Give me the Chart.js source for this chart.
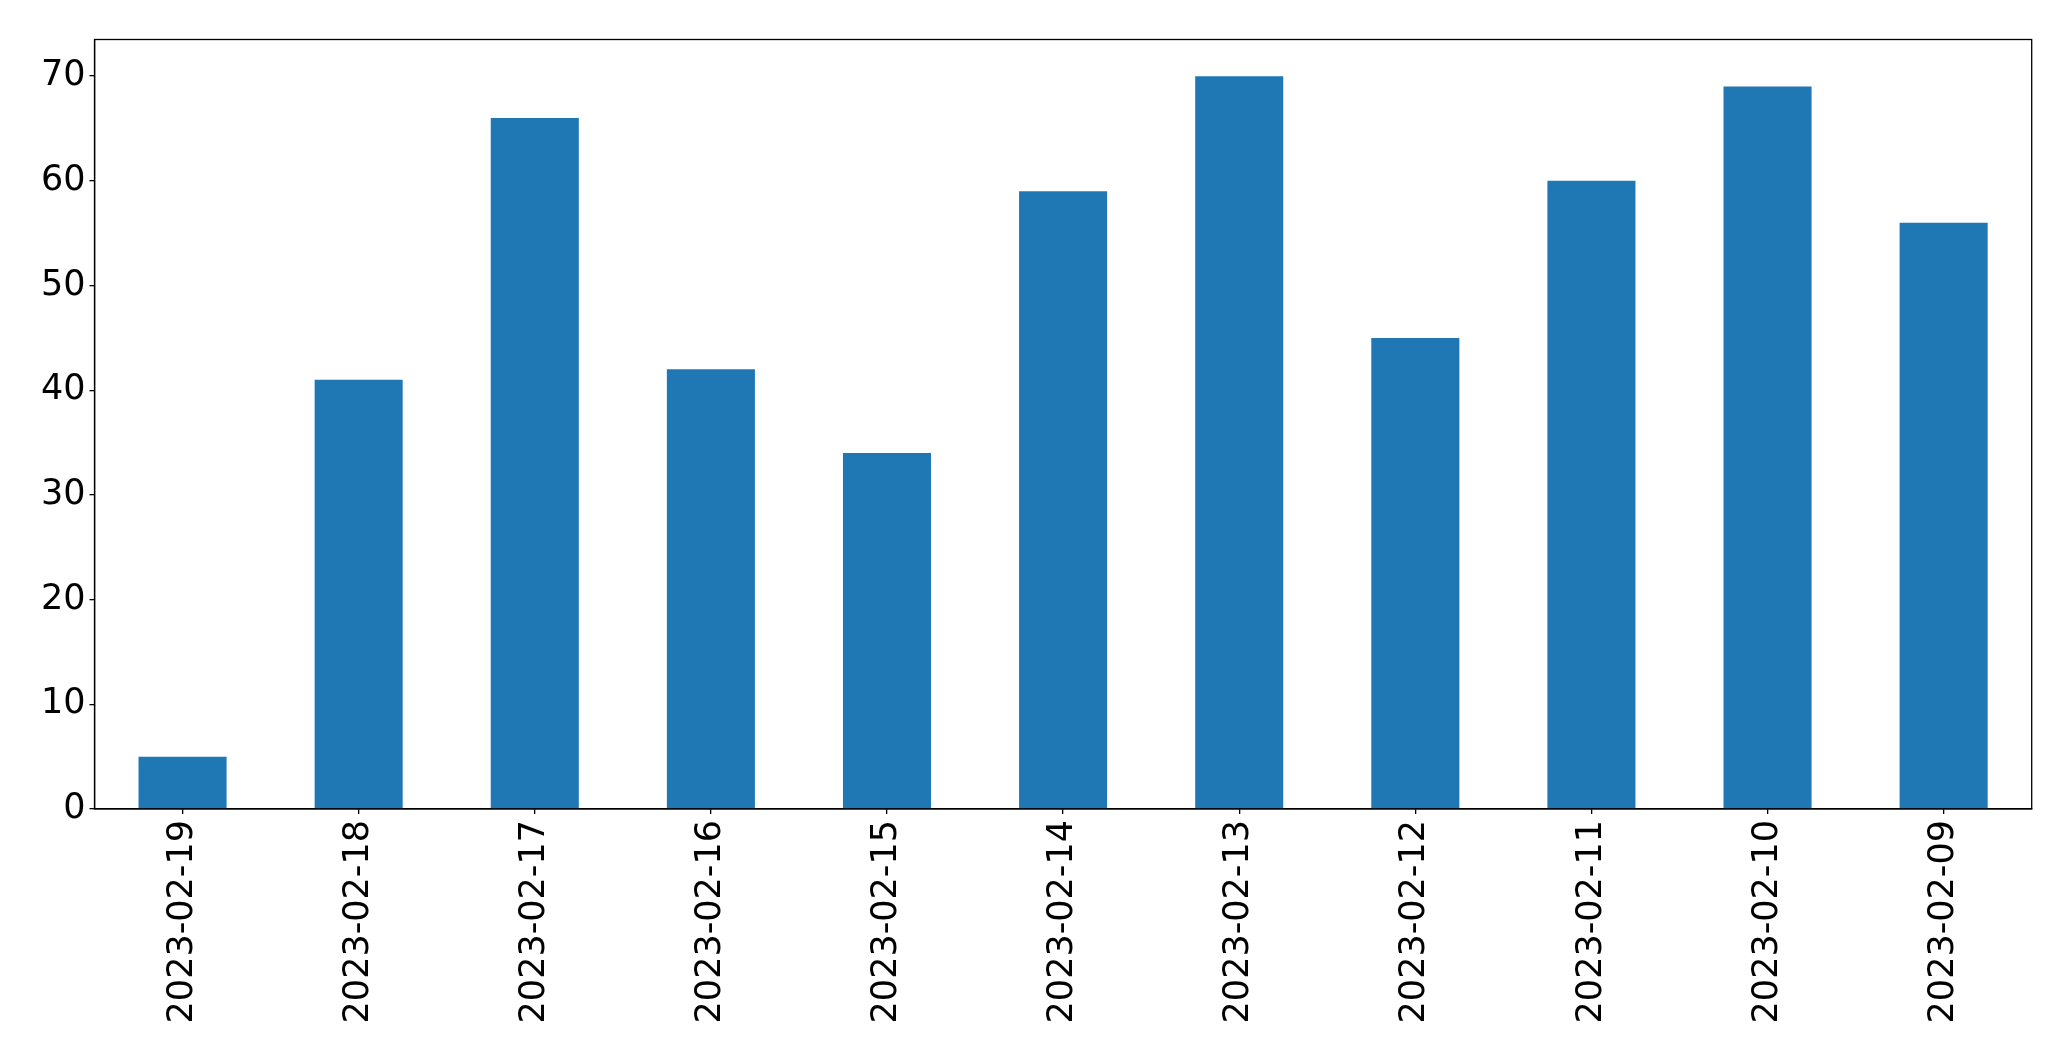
<!DOCTYPE html>
<html lang="en">
<head>
    <meta charset="UTF-8">
    <title>Daily counts</title>
    <script src="https://cdn.jsdelivr.net/npm/chart.js"></script>
    <style>
        html, body {
            margin: 0;
            padding: 0;
            background-color: #ffffff;
        }
        .chart-wrapper {
            width: 2071px;
            height: 1061px;
        }
    </style>
</head>
<body>
    <div class="chart-wrapper">
        <canvas id="barChart"></canvas>
    </div>

    <script>
        // data
        const dates = ['2023-02-19', '2023-02-18', '2023-02-17', '2023-02-16', '2023-02-15', '2023-02-14',
                       '2023-02-13', '2023-02-12', '2023-02-11', '2023-02-10', '2023-02-09'];
        const counts = [5, 41, 66, 42, 34, 59, 70, 45, 60, 69, 56];
        const yTicks = [0, 10, 20, 30, 40, 50, 60, 70];

        // box round the plot area, like matplotlib's spines
        const frame = {
            id: 'frame',
            afterDraw(chart) {
                const a = chart.chartArea;
                const ctx = chart.ctx;
                ctx.save();
                ctx.strokeStyle = '#000';
                ctx.lineWidth = 1.3;
                ctx.strokeRect(a.left, a.top, a.right - a.left, a.bottom - a.top);
                ctx.restore();
            }
        };

        const font = { family: 'DejaVu Sans', size: 35 };

        new Chart(document.getElementById('barChart'), {
            type: 'bar',
            data: {
                labels: dates,
                datasets: [{
                    data: counts,
                    backgroundColor: '#1f77b4',
                    borderWidth: 0,
                    barPercentage: 0.5,
                    categoryPercentage: 1.0
                }]
            },
            options: {
                responsive: true,
                maintainAspectRatio: false,
                animation: false,
                layout: { padding: { top: 39.5, right: 39.3, bottom: 0, left: 0 } },
                plugins: {
                    legend: { display: false },
                    tooltip: { enabled: false }
                },
                scales: {
                    x: {
                        offset: true,
                        grid: { offset: false, drawOnChartArea: false, drawTicks: true, tickLength: 5, color: '#000', lineWidth: 1.3 },
                        border: { display: true, color: '#000', width: 1.3 },
                        ticks: { font: font, color: '#000', minRotation: 90, maxRotation: 90, padding: 6, autoSkip: false },
                        afterFit(scale) { scale.height = 252; }
                    },
                    y: {
                        min: 0,
                        max: 73.5,
                        grid: { drawOnChartArea: false, drawTicks: true, tickLength: 5, color: '#000', lineWidth: 1.3 },
                        border: { display: true, color: '#000', width: 1.3 },
                        ticks: { font: font, color: '#000', padding: 4 },
                        afterBuildTicks(scale) { scale.ticks = yTicks.map(v => ({ value: v })); },
                        afterFit(scale) { scale.width = 94.5; }
                    }
                }
            },
            plugins: [frame]
        });
    </script>
</body>
</html>
